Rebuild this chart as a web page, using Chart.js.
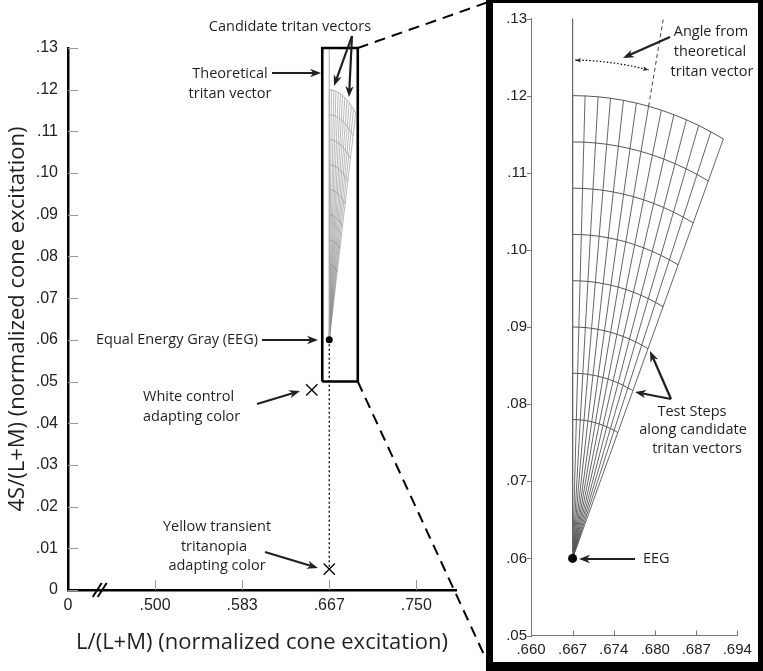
<!DOCTYPE html>
<html>
<head>
<meta charset="utf-8">
<script src="https://cdn.jsdelivr.net/npm/chart.js@4"></script>
<style>
  body { margin: 0; background: #fff; width: 763px; height: 671px; overflow: hidden; position: relative; }
  #main { position: absolute; left: 0; top: 0; }
  #frame { position: absolute; left: 486px; top: -4px; border: 7px solid #000; border-bottom-width: 9px; width: 265px; height: 659px; }
  #inset { display: block; }
</style>
</head>
<body>
<canvas id="main" width="487" height="671"></canvas>
<div id="frame"><canvas id="inset" width="265" height="659"></canvas></div>
<script>
// equal energy gray, the origin of every tritan vector
const eegX = 0.6667;
const eegY = 0.060;
// candidate tritan vectors: angle (deg) away from the theoretical vector
const candidateAngles = [0, 2.0, 4.1, 6.1, 8.2, 10.3, 12.3, 14.4, 16.5, 18.6, 20.7, 22.8, 25.0];
// test steps along each vector (distance from EEG)
const testStepRadii = [0.018, 0.024, 0.030, 0.036, 0.042, 0.048, 0.054, 0.060];
const theoreticalTop = 0.13;
// angle guide (dashed) follows one of the candidates
const guideIndex = 6;
const guideReach = 0.0715;
const angleArcRadius = 0.0646;
// adapting colours: white control, yellow transient tritanopia
const adaptX = [0.650, 0.6667];
const adaptY = [0.048, 0.005];
// zoom box
const boxX = [0.660, 0.694];
const boxY = [0.050, 0.130];

const mainXTicks = [0.41667, 0.5, 0.58333, 0.66667, 0.75];
const mainXLabels = ['0', '.500', '.583', '.667', '.750'];
const mainYTicks = [0, 0.01, 0.02, 0.03, 0.04, 0.05, 0.06, 0.07, 0.08, 0.09, 0.10, 0.11, 0.12, 0.13];
const mainYLabels = ['0', '.01', '.02', '.03', '.04', '.05', '.06', '.07', '.08', '.09', '.10', '.11', '.12', '.13'];
const insetXTicks = [0.6597, 0.6667, 0.6736, 0.6806, 0.6875, 0.6944];
const insetXLabels = ['.660', '.667', '.674', '.680', '.687', '.694'];
const insetYTicks = [0.05, 0.06, 0.07, 0.08, 0.09, 0.10, 0.11, 0.12, 0.13];
const insetYLabels = ['.05', '.06', '.07', '.08', '.09', '.10', '.11', '.12', '.13'];

const INK = '#231f20';
const ANN_FONT = '14.5px "Open Sans"';
const TICK_FONT = { family: '"Liberation Sans", Arial, sans-serif', size: 16 };

const rad = d => d * Math.PI / 180;
const polar = (deg, r) => ({ x: eegX + r * Math.sin(rad(deg)), y: eegY + r * Math.cos(rad(deg)) });

function line(data, color, width, dash) {
  return { data, showLine: true, borderColor: color, borderWidth: width, borderDash: dash || [],
    pointRadius: 0, tension: 0, fill: false, clip: false };
}

function fanSets(vecColor, arcColor, width) {
  const outer = testStepRadii[testStepRadii.length - 1];
  const sets = candidateAngles.map(a => line([polar(a, 0), polar(a, outer)], vecColor, width));
  testStepRadii.forEach(r => sets.push(line(candidateAngles.map(a => polar(a, r)), arcColor, width)));
  return sets;
}

function arrow(ctx, x1, y1, x2, y2, w = 2.2, hl = 11, hw = 4.2) {
  const a = Math.atan2(y2 - y1, x2 - x1), c = Math.cos(a), s = Math.sin(a);
  ctx.save();
  ctx.strokeStyle = ctx.fillStyle = INK;
  ctx.lineWidth = w;
  ctx.beginPath(); ctx.moveTo(x1, y1); ctx.lineTo(x2 - hl * 0.7 * c, y2 - hl * 0.7 * s); ctx.stroke();
  ctx.beginPath();
  ctx.moveTo(x2, y2);
  ctx.lineTo(x2 - hl * c - hw * s, y2 - hl * s + hw * c);
  ctx.lineTo(x2 - hl * 0.7 * c, y2 - hl * 0.7 * s);
  ctx.lineTo(x2 - hl * c + hw * s, y2 - hl * s - hw * c);
  ctx.closePath(); ctx.fill();
  ctx.restore();
}

function label(ctx, str, x, y, align) {
  ctx.save();
  ctx.font = ANN_FONT; ctx.fillStyle = INK;
  ctx.textAlign = align || 'center'; ctx.textBaseline = 'middle';
  ctx.fillText(str, x, y);
  ctx.restore();
}

function fixedTicks(values) {
  return scale => { scale.ticks = values.map(v => ({ value: v })); };
}

// ---------- main chart ----------
const mainAnnotations = {
  id: 'mainAnnotations',
  beforeDatasetsDraw(chart) {
    const { ctx, chartArea: ca, scales: { x, y } } = chart;
    ctx.save();
    ctx.strokeStyle = '#9a9a9a'; ctx.lineWidth = 1;
    mainYTicks.forEach(v => {
      const py = Math.round(y.getPixelForValue(v)) + 0.5;
      ctx.beginPath(); ctx.moveTo(ca.left, py); ctx.lineTo(ca.left + 10, py); ctx.stroke();
    });
    mainXTicks.slice(1).forEach(v => {
      const px = Math.round(x.getPixelForValue(v)) + 0.5;
      ctx.beginPath(); ctx.moveTo(px, ca.bottom); ctx.lineTo(px, ca.bottom - 10); ctx.stroke();
    });
    ctx.restore();
  },
  afterDraw(chart) {
    const { ctx, chartArea: ca, scales: { x, y } } = chart;
    ctx.save();
    // axis break
    ctx.strokeStyle = '#000'; ctx.lineWidth = 2;
    const bx = x.getPixelForValue(0.447);
    [-2.5, 2.5].forEach(d => {
      ctx.beginPath(); ctx.moveTo(bx + d - 4.5, ca.bottom + 7); ctx.lineTo(bx + d + 4.5, ca.bottom - 7); ctx.stroke();
    });
    // connectors to the enlarged panel
    ctx.setLineDash([11, 7]); ctx.lineWidth = 2;
    const cx = x.getPixelForValue(boxX[1]);
    ctx.beginPath(); ctx.moveTo(cx, y.getPixelForValue(boxY[1])); ctx.lineTo(chart.width, 2.5); ctx.stroke();
    ctx.beginPath(); ctx.moveTo(cx, y.getPixelForValue(boxY[0])); ctx.lineTo(chart.width - 1, 659); ctx.stroke();
    ctx.restore();

    label(ctx, 'Candidate tritan vectors', 290, 27);
    label(ctx, 'Theoretical', 230, 74);
    label(ctx, 'tritan vector', 230, 94);
    label(ctx, 'Equal Energy Gray (EEG)', 258, 340, 'right');
    label(ctx, 'White control', 143, 397, 'left');
    label(ctx, 'adapting color', 143, 417, 'left');
    label(ctx, 'Yellow transient', 217, 527);
    label(ctx, 'tritanopia', 214, 547);
    label(ctx, 'adapting color', 217, 566);
    arrow(ctx, 352, 36, 334, 86);
    arrow(ctx, 352, 36, 349, 97);
    arrow(ctx, 272, 73, 321, 73);
    arrow(ctx, 262, 340, 318, 340);
    arrow(ctx, 257, 404, 300, 391);
    arrow(ctx, 265, 552, 318, 568);
  }
};

new Chart(document.getElementById('main'), {
  type: 'scatter',
  data: {
    datasets: [
      { data: [{ x: eegX, y: eegY }], pointRadius: 3.5, backgroundColor: '#000', borderWidth: 0, clip: false },
      { data: adaptX.map((v, i) => ({ x: v, y: adaptY[i] })), pointStyle: 'crossRot', pointRadius: 8,
        borderColor: '#000', borderWidth: 1.3, clip: false },
      line([{ x: boxX[0], y: boxY[0] }, { x: boxX[0], y: boxY[1] }, { x: boxX[1], y: boxY[1] },
            { x: boxX[1], y: boxY[0] }, { x: boxX[0], y: boxY[0] }], '#000', 2.6),
      line([{ x: eegX, y: eegY }, { x: adaptX[1], y: adaptY[1] }], '#000', 1.3, [2, 2.5]),
      line([{ x: eegX, y: eegY }, { x: eegX, y: theoreticalTop }], '#aaa', 1),
      ...fanSets('#8a8a8a', '#8a8a8a', 0.6)
    ]
  },
  options: {
    responsive: false, animation: false,
    layout: { padding: { top: 48, right: 31, left: 0, bottom: 0 } },
    plugins: { legend: { display: false }, tooltip: { enabled: false } },
    scales: {
      x: {
        type: 'linear', min: 0.41667, max: 0.788,
        afterBuildTicks: fixedTicks(mainXTicks),
        afterFit: s => { s.height = 81; },
        grid: { display: false, drawTicks: false },
        border: { color: '#000', width: 2.5 },
        ticks: { font: TICK_FONT, color: '#222', padding: 6, maxRotation: 0, callback: (v, i) => mainXLabels[i] },
        title: { display: true, text: 'L/(L+M) (normalized cone excitation)',
          font: { family: '"Open Sans"', size: 22 }, color: INK, padding: { bottom: 15 } }
      },
      y: {
        min: 0, max: 0.13,
        afterBuildTicks: fixedTicks(mainYTicks),
        afterFit: s => { s.width = 68; },
        grid: { display: false, drawTicks: false },
        border: { color: '#000', width: 2.5 },
        ticks: { font: TICK_FONT, color: '#222', padding: 10, callback: (v, i) => mainYLabels[i] },
        title: { display: true, text: '4S/(L+M) (normalized cone excitation)',
          font: { family: '"Open Sans"', size: 22 }, color: INK, padding: { top: 5 } }
      }
    }
  },
  plugins: [mainAnnotations]
});

// ---------- enlarged panel ----------
const INSET_ORIGIN = [493, 3];

const insetAnnotations = {
  id: 'insetAnnotations',
  beforeDatasetsDraw(chart) {
    const { ctx, chartArea: ca, scales: { x, y } } = chart;
    ctx.save();
    ctx.strokeStyle = '#777'; ctx.lineWidth = 1;
    insetYTicks.forEach(v => {
      const py = Math.round(y.getPixelForValue(v)) + 0.5;
      ctx.beginPath(); ctx.moveTo(ca.left - 4, py); ctx.lineTo(ca.left + 1, py); ctx.stroke();
    });
    insetXTicks.slice(1).forEach(v => {
      const px = Math.round(x.getPixelForValue(v)) + 0.5;
      ctx.beginPath(); ctx.moveTo(px, ca.bottom); ctx.lineTo(px, ca.bottom - 5); ctx.stroke();
    });
    ctx.restore();
  },
  afterDraw(chart) {
    const { ctx, scales: { x, y } } = chart;
    const toPx = p => [x.getPixelForValue(p.x), y.getPixelForValue(p.y)];
    ctx.save();
    // dashed guide along one candidate vector
    const g0 = toPx(polar(candidateAngles[guideIndex], testStepRadii[testStepRadii.length - 1]));
    const g1 = toPx(polar(candidateAngles[guideIndex], guideReach));
    ctx.strokeStyle = '#444'; ctx.lineWidth = 1; ctx.setLineDash([4, 3]);
    ctx.beginPath(); ctx.moveTo(g0[0], g0[1]); ctx.lineTo(g1[0], g1[1]); ctx.stroke();
    // dotted angle arc with heads at both ends
    const a0 = 0.4, a1 = candidateAngles[guideIndex] - 0.9;
    ctx.setLineDash([1.5, 2]); ctx.lineWidth = 1.2; ctx.strokeStyle = '#000';
    ctx.beginPath();
    for (let k = 0; k <= 20; k++) {
      const p = toPx(polar(a0 + (a1 - a0) * k / 20, angleArcRadius));
      k ? ctx.lineTo(p[0], p[1]) : ctx.moveTo(p[0], p[1]);
    }
    ctx.stroke();
    ctx.setLineDash([]);
    const s0 = toPx(polar(a0, angleArcRadius)), s1 = toPx(polar(a0 + 1.5, angleArcRadius));
    const e0 = toPx(polar(a1, angleArcRadius)), e1 = toPx(polar(a1 - 1.5, angleArcRadius));
    ctx.restore();
    arrow(ctx, s1[0], s1[1], s0[0], s0[1], 0.1, 6, 2.3);
    arrow(ctx, e1[0], e1[1], e0[0], e0[1], 0.1, 6, 2.3);

    ctx.save();
    ctx.translate(-INSET_ORIGIN[0], -INSET_ORIGIN[1]);
    label(ctx, 'Angle from', 711, 32);
    label(ctx, 'theoretical', 710, 52);
    label(ctx, 'tritan vector', 712, 72);
    label(ctx, 'Test Steps', 692, 412);
    label(ctx, 'along candidate', 693, 430);
    label(ctx, 'tritan vectors', 697, 449);
    label(ctx, 'EEG', 643, 559, 'left');
    arrow(ctx, 670, 37, 623, 58);
    arrow(ctx, 671, 399, 650, 351);
    arrow(ctx, 671, 399, 635, 392);
    arrow(ctx, 635, 559, 579, 559);
    ctx.restore();
  }
};

new Chart(document.getElementById('inset'), {
  type: 'scatter',
  data: {
    datasets: [
      { data: [{ x: eegX, y: eegY }], pointRadius: 4.5, backgroundColor: '#000', borderWidth: 0, clip: false },
      line([{ x: eegX, y: eegY }, { x: eegX, y: theoreticalTop }], '#666', 1.2),
      ...fanSets('#555', '#444', 0.9)
    ]
  },
  options: {
    responsive: false, animation: false,
    layout: { padding: { top: 15.5, right: 20.7, left: 0, bottom: 0 } },
    plugins: { legend: { display: false }, tooltip: { enabled: false } },
    scales: {
      x: {
        type: 'linear', min: insetXTicks[0], max: insetXTicks[insetXTicks.length - 1],
        afterBuildTicks: fixedTicks(insetXTicks),
        afterFit: s => { s.height = 26.5; },
        grid: { display: false, drawTicks: false },
        border: { color: '#777', width: 1 },
        ticks: { font: { ...TICK_FONT, size: 15 }, color: '#222', padding: 5, maxRotation: 0,
          callback: (v, i) => insetXLabels[i] }
      },
      y: {
        min: 0.05, max: 0.13,
        afterBuildTicks: fixedTicks(insetYTicks),
        afterFit: s => { s.width = 38; },
        grid: { display: false, drawTicks: false },
        border: { color: '#777', width: 1 },
        ticks: { font: { ...TICK_FONT, size: 15 }, color: '#222', padding: 4,
          callback: (v, i) => insetYLabels[i] }
      }
    }
  },
  plugins: [insetAnnotations]
});
</script>
</body>
</html>
